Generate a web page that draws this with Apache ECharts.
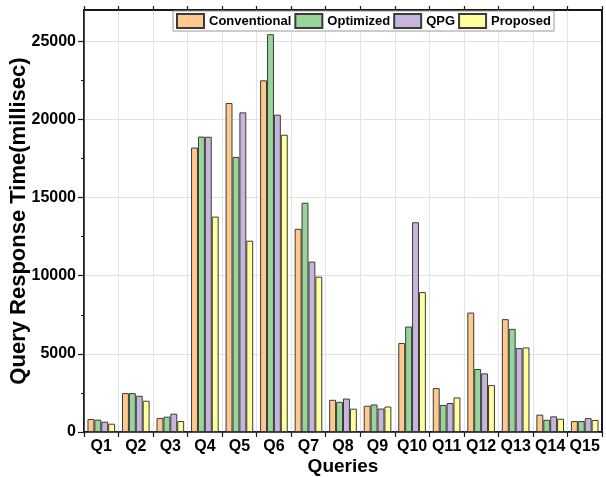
<!DOCTYPE html>
<html>
<head>
<meta charset="utf-8">
<script src="https://cdn.jsdelivr.net/npm/echarts@6/dist/echarts.min.js"></script>
<style>
  html, body { margin: 0; padding: 0; background: #fff; overflow: hidden; }
  #chart { width: 100vw; height: 100vh; }
</style>
</head>
<body>
<div id="chart"></div>
<script>
// Query response times (ms) for each query under four planners
const queries = ['Q1', 'Q2', 'Q3', 'Q4', 'Q5', 'Q6', 'Q7', 'Q8', 'Q9', 'Q10', 'Q11', 'Q12', 'Q13', 'Q14', 'Q15'];
const conventional = [830, 2490, 890, 18200, 21050, 22500, 13000, 2060, 1680, 5690, 2810, 7640, 7220, 1110, 700];
const optimized    = [790, 2490, 980, 18900, 17600, 25450, 14670, 1930, 1760, 6750, 1730, 4030, 6600, 780, 700];
const qpg          = [660, 2320, 1170, 18890, 20450, 20300, 10900, 2140, 1500, 13420, 1850, 3750, 5370, 1000, 890];
const proposed     = [530, 2000, 700, 13780, 12240, 19020, 9940, 1490, 1630, 8950, 2210, 3000, 5410, 850, 770];

// Labelled ticks and the in-between minor ticks on the value axis
const yTickLabels = [0, 5000, 10000, 15000, 20000, 25000];
const yMinorTicks = [2500, 7500, 12500, 17500, 22500];

const seriesNames = ['Conventional', 'Optimized', 'QPG', 'Proposed'];
const seriesData = [conventional, optimized, qpg, proposed];
const seriesColors = ['#FFC98E', '#98D598', '#C7B6DB', '#FFFF9C'];

const FONT = 'Liberation Sans, Arial, sans-serif';
const AXIS_COLOR = '#1a1a1a';
const Y_MAX = 27000;

const chart = echarts.init(document.getElementById('chart'), null, { renderer: 'canvas' });

const option = {
  backgroundColor: '#ffffff',
  animation: false,
  textStyle: { fontFamily: FONT },
  grid: {
    left: 84, right: 4, top: 10, bottom: 45,
    containLabel: false, outerBoundsMode: 'none',
    show: true, borderColor: AXIS_COLOR, borderWidth: 2, backgroundColor: 'transparent'
  },
  legend: {
    data: seriesNames,
    left: 173,
    top: 11,
    orient: 'horizontal',
    itemWidth: 27,
    itemHeight: 14,
    itemGap: 3,
    padding: [2, 3, 2, 3],
    backgroundColor: '#ffffff',
    borderColor: '#9a9a9a',
    borderWidth: 1,
    icon: 'rect',
    textStyle: { fontFamily: FONT, fontWeight: 'bold', fontSize: 13, color: '#000' }
  },
  xAxis: [
    {
      type: 'category',
      data: queries,
      position: 'bottom',
      name: 'Queries',
      nameLocation: 'middle',
      nameGap: 25,
      nameMoveOverlap: false,
      nameTextStyle: { fontFamily: FONT, fontWeight: 'bold', fontSize: 19, color: '#000' },
      axisLine: { show: true, onZero: false, lineStyle: { color: AXIS_COLOR, width: 1.5 } },
      axisTick: { show: true, alignWithLabel: false, inside: false, length: 5, lineStyle: { color: AXIS_COLOR, width: 1.2 } },
      axisLabel: { fontFamily: FONT, fontWeight: 'bold', fontSize: 16, color: '#000', margin: 7, interval: 0 },
      splitLine: { show: true, lineStyle: { color: '#e4e4e4', width: 1 } }
    },
    {
      type: 'category',
      data: queries,
      position: 'top',
      axisLine: { show: true, onZero: false, lineStyle: { color: AXIS_COLOR, width: 1.5 } },
      axisTick: { show: true, alignWithLabel: false, inside: false, length: 4, lineStyle: { color: AXIS_COLOR, width: 1.2 } },
      axisLabel: { show: false },
      splitLine: { show: false }
    }
  ],
  yAxis: [
    {
      type: 'value',
      position: 'left',
      min: 0,
      max: Y_MAX,
      interval: 2500,
      name: 'Query Response Time(millisec)',
      nameLocation: 'middle',
      nameGap: 54,
      nameRotate: 90,
      nameMoveOverlap: false,
      nameTextStyle: { fontFamily: FONT, fontWeight: 'bold', fontSize: 22, color: '#000' },
      axisLine: { show: true, onZero: false, lineStyle: { color: AXIS_COLOR, width: 1.5 } },
      axisTick: { show: true, inside: false, length: 6, customValues: yTickLabels, lineStyle: { color: AXIS_COLOR, width: 1.2 } },
      axisLabel: {
        fontFamily: FONT, fontWeight: 'bold', fontSize: 16, color: '#000', margin: 8,
        customValues: yTickLabels,
        formatter: (v) => String(v)
      },
      splitLine: { show: true, lineStyle: { color: '#e0e0e0', width: 1 } }
    },
    {
      // right-hand frame edge
      type: 'value',
      position: 'right',
      min: 0,
      max: Y_MAX,
      interval: 2500,
      axisLine: { show: true, onZero: false, lineStyle: { color: AXIS_COLOR, width: 2 } },
      axisTick: { show: false },
      axisLabel: { show: false },
      splitLine: { show: false }
    },
    {
      // shorter minor ticks between the labelled ones
      type: 'value',
      position: 'left',
      min: 0,
      max: Y_MAX,
      interval: 2500,
      axisLine: { show: false, onZero: false },
      axisTick: { show: true, inside: false, length: 3, customValues: yMinorTicks, lineStyle: { color: AXIS_COLOR, width: 1 } },
      axisLabel: { show: false },
      splitLine: { show: false }
    }
  ],
  series: seriesNames.map((name, i) => ({
    name: name,
    type: 'bar',
    xAxisIndex: 0,
    yAxisIndex: 0,
    data: seriesData[i],
    barGap: '0%',
    barCategoryGap: '20%',
    itemStyle: { color: seriesColors[i], borderColor: '#3a3a3a', borderWidth: 1 }
  }))
};

chart.setOption(option);
</script>
</body>
</html>
